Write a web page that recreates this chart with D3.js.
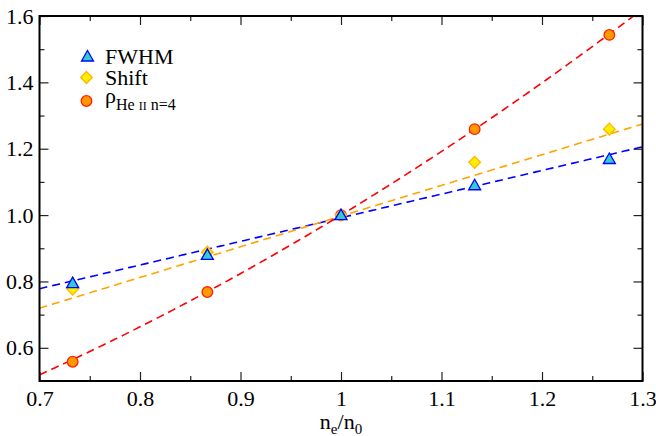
<!DOCTYPE html>
<html>
<head>
<meta charset="utf-8">
<script src="https://cdn.jsdelivr.net/npm/d3@7"></script>
<style>
  body { margin: 0; background: #fff; }
  svg { display: block; }
</style>
</head>
<body>
<svg id="chart" width="656" height="436" font-family="Liberation Serif"></svg>
<script>
// Density ratio n_e/n_0 and the normalised quantities measured at each ratio
const ratios = [0.733, 0.867, 1.0, 1.133, 1.267];
const fwhm   = [0.795, 0.880, 1.0, 1.090, 1.169];
const shift  = [0.777, 0.888, 1.0, 1.159, 1.259];
const rhoHe  = [0.558, 0.768, 1.0, 1.259, 1.543];

// Fitted trends: straight lines (value at ratio 1, slope) and a power law
const fwhmFit  = { at1: 0.992, slope: 0.7125 };
const shiftFit = { at1: 0.997, slope: 0.925 };
const rhoFit   = { coef: 1.0, exponent: 1.84 };

// Axis ticks and labels
const xMajor = [0.7, 0.8, 0.9, 1.0, 1.1, 1.2, 1.3];
const xLabels = ["0.7", "0.8", "0.9", "1", "1.1", "1.2", "1.3"];
const xMinor = [0.75, 0.85, 0.95, 1.05, 1.15, 1.25];
const yMajor = [0.6, 0.8, 1.0, 1.2, 1.4, 1.6];
const yLabels = ["0.6", "0.8", "1.0", "1.2", "1.4", "1.6"];
const yMinor = [0.7, 0.9, 1.1, 1.3, 1.5];

const FONT = "Liberation Serif";

const svg = d3.select("#chart");
const m = { left: 39.5, right: 642.5, top: 16, bottom: 381 };

const x = d3.scaleLinear().domain([0.7, 1.3]).range([m.left, m.right]);
const y = d3.scaleLinear().domain([0.5, 1.6]).range([m.bottom, m.top]);

const plotW = m.right - m.left, plotH = m.bottom - m.top;

// Clip for the fitted curves
svg.append("defs").append("clipPath").attr("id", "plotClip")
  .append("rect").attr("x", m.left).attr("y", m.top).attr("width", plotW).attr("height", plotH);

// Tick marks on all four sides, pointing inward
function tickAxes(xv, yv, size, showLabels) {
  const bottom = d3.axisBottom(x).tickValues(xv).tickSize(-size).tickPadding(9)
    .tickFormat((d, i) => showLabels ? xLabels[i] : "");
  const top = d3.axisTop(x).tickValues(xv).tickSize(-size).tickFormat("");
  const left = d3.axisLeft(y).tickValues(yv).tickSize(-size).tickPadding(6)
    .tickFormat((d, i) => showLabels ? yLabels[i] : "");
  const right = d3.axisRight(y).tickValues(yv).tickSize(-size).tickFormat("");
  const gs = [
    svg.append("g").attr("transform", `translate(0,${m.bottom})`).call(bottom),
    svg.append("g").attr("transform", `translate(0,${m.top})`).call(top),
    svg.append("g").attr("transform", `translate(${m.left},0)`).call(left),
    svg.append("g").attr("transform", `translate(${m.right},0)`).call(right)
  ];
  gs.forEach(g => {
    g.attr("font-family", FONT).attr("font-size", 22);
    g.select(".domain").remove();
    g.selectAll(".tick line").attr("stroke", "#222").attr("stroke-width", 1.2);
    g.selectAll(".tick text").attr("font-family", FONT).attr("font-size", 22).attr("fill", "#000");
  });
}
tickAxes(xMajor, yMajor, 9, true);
tickAxes(xMinor, yMinor, 5, false);

// Fitted curves
const xs = d3.range(0, 201).map(i => 0.7 + i * 0.6 / 200);
const lineGen = d3.line().x(d => x(d[0])).y(d => y(d[1]));
const fits = [
  { f: v => fwhmFit.at1 + fwhmFit.slope * (v - 1), color: "#0000ff" },
  { f: v => shiftFit.at1 + shiftFit.slope * (v - 1), color: "#ffa500" },
  { f: v => rhoFit.coef * Math.pow(v, rhoFit.exponent), color: "#ff0000" }
];
const fitG = svg.append("g").attr("clip-path", "url(#plotClip)");
fits.forEach(ft => {
  fitG.append("path")
    .datum(xs.map(v => [v, ft.f(v)]))
    .attr("d", lineGen)
    .attr("fill", "none")
    .attr("stroke", ft.color)
    .attr("stroke-width", 1.6)
    .attr("stroke-dasharray", "8,5");
});

// Marker shapes
const triPath = "M0,-6L6,4.5L-6,4.5Z";
const diaPath = "M0,-6L5.8,0L0,6L-5.8,0Z";
function drawTri(g, cx, cy) {
  g.append("path").attr("d", triPath).attr("transform", `translate(${cx},${cy})`)
    .attr("fill", "#33cccc").attr("stroke", "#0000ff").attr("stroke-width", 1.3);
}
function drawDia(g, cx, cy) {
  g.append("path").attr("d", diaPath).attr("transform", `translate(${cx},${cy})`)
    .attr("fill", "#ffee00").attr("stroke", "#ffb400").attr("stroke-width", 1.3);
}
function drawCirc(g, cx, cy) {
  g.append("circle").attr("cx", cx).attr("cy", cy).attr("r", 5.3)
    .attr("fill", "#ff9900").attr("stroke", "#ff2000").attr("stroke-width", 1.3);
}

const markG = svg.append("g");
ratios.forEach((r, i) => drawCirc(markG, x(r), y(rhoHe[i])));
ratios.forEach((r, i) => drawDia(markG, x(r), y(shift[i])));
ratios.forEach((r, i) => drawTri(markG, x(r), y(fwhm[i])));

// Frame
svg.append("rect").attr("x", m.left).attr("y", m.top).attr("width", plotW).attr("height", plotH)
  .attr("fill", "none").attr("stroke", "#000").attr("stroke-width", 2);

// Axis title n_e/n_0
const xt = svg.append("text").attr("x", (m.left + m.right) / 2).attr("y", 429)
  .attr("text-anchor", "middle").attr("font-family", FONT).attr("font-size", 22);
xt.append("tspan").text("n");
xt.append("tspan").attr("dy", 5).attr("font-size", 15).text("e");
xt.append("tspan").attr("dy", -5).text("/n");
xt.append("tspan").attr("dy", 5).attr("font-size", 15).text("0");

// Legend
const lg = svg.append("g").attr("font-family", FONT);
drawTri(lg, 87.5, 56.5);
drawDia(lg, 86.5, 77.5);
drawCirc(lg, 86.5, 101);
lg.append("text").attr("x", 105).attr("y", 64).attr("font-family", FONT).attr("font-size", 22).text("FWHM");
lg.append("text").attr("x", 105).attr("y", 84.5).attr("font-family", FONT).attr("font-size", 22).text("Shift");
const rt = lg.append("text").attr("x", 105).attr("y", 103).attr("font-family", FONT).attr("font-size", 22);
rt.append("tspan").text("ρ");
rt.append("tspan").attr("dy", 7).attr("font-size", 16).text("He ");
rt.append("tspan").attr("font-size", 12).text("II");
rt.append("tspan").attr("font-size", 16).text(" n=4");
</script>
</body>
</html>
